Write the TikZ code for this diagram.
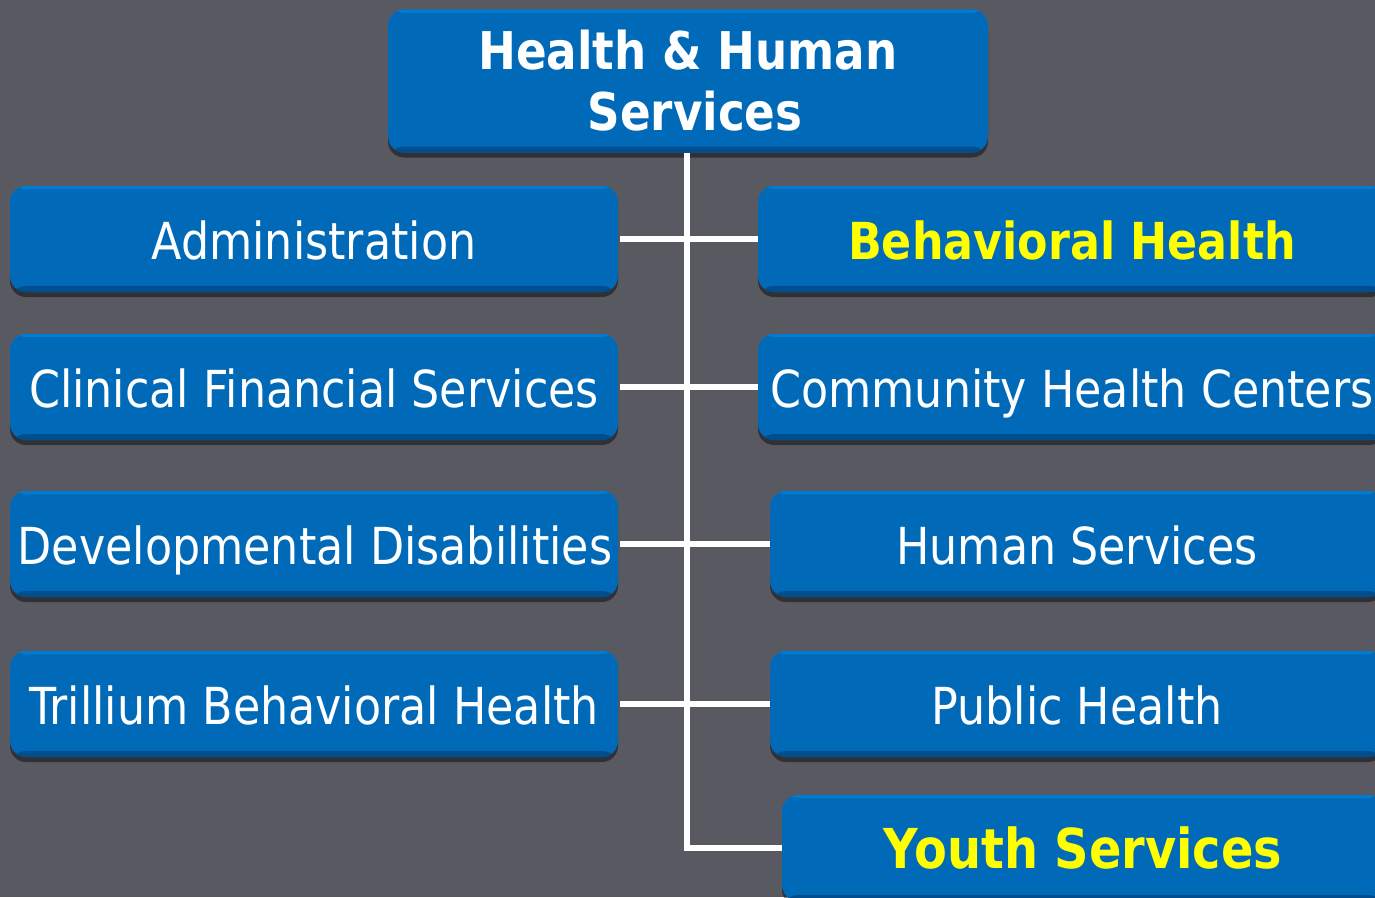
\documentclass[tikz,border=0pt]{standalone}
\usepackage{fontspec}
\setmainfont{DejaVu Sans}[FakeStretch=0.87]
\usetikzlibrary{shadows}
\definecolor{bg}{RGB}{89,89,97}
\definecolor{boxmain}{RGB}{0,106,184}
\definecolor{boxdark}{RGB}{0,78,142}
\definecolor{boxlight}{RGB}{0,124,212}
\definecolor{hlyellow}{RGB}{255,255,0}
\tikzset{
  orgbox/.style={fill=boxmain, rounded corners=16pt, inner sep=0pt,
    text=white, font=\fontsize{51}{61}\selectfont,
    text height=40pt, text depth=0pt,
    drop shadow={shadow xshift=0pt, shadow yshift=-5pt, opacity=0.45, fill=black},
    path picture={
      \fill[boxdark] (path picture bounding box.south west) rectangle ([yshift=6pt]path picture bounding box.south east);
      \fill[boxlight] (path picture bounding box.north west) rectangle ([yshift=-3pt]path picture bounding box.north east);
    }},
  leftbox/.style={orgbox, minimum width=608pt, minimum height=106pt},
  hl/.style={text=hlyellow, font=\fontsize{51}{61}\selectfont\bfseries},
  link/.style={draw=white, line width=5.5pt}
}
\begin{document}
\begin{tikzpicture}[x=1pt,y=-1pt]
\useasboundingbox (0,0) rectangle (1375,897);
\fill[bg] (0,0) rectangle (1375,897);
\clip (0,0) rectangle (1375,897);
% top node
\node[orgbox, minimum width=600pt, minimum height=143pt, text height=, text depth=,
  align=center, font=\fontsize{52}{61}\selectfont\bfseries] (top) at (688,81)
  {Health \& Human\\\hspace*{14pt}Services};
% left column
\node[leftbox] (adm) at (314,239) {Administration};
\node[leftbox] (cfs) at (314,387) {Clinical Financial Services};
\node[leftbox] (dd) at (314,544) {\hspace*{2pt}Developmental Disabilities};
\node[leftbox] (tbh) at (314,704) {Trillium Behavioral Health};
% right column
\node[orgbox, hl, minimum width=628pt, minimum height=106pt] (bh) at (1072,239) {Behavioral Health};
\node[orgbox, minimum width=628pt, minimum height=106pt] (chc) at (1072,387) {Community Health Centers};
\node[orgbox, minimum width=614pt, minimum height=106pt] (hs) at (1077,544) {Human Services};
\node[orgbox, minimum width=614pt, minimum height=106pt] (ph) at (1077,704) {Public Health};
\node[orgbox, hl, font=\fontsize{55}{61}\selectfont\bfseries, minimum width=602pt, minimum height=106pt] (ys) at (1083,848) {Youth Services};
% connectors
\draw[link] (top.south) ++(-1pt,0) coordinate (trunk) -- (trunk |- ys.west) -- (ys.west);
\draw[link] ([xshift=2pt]adm.east) -- (bh.west);
\draw[link] ([xshift=2pt]cfs.east) -- (chc.west);
\draw[link] ([xshift=2pt]dd.east) -- (hs.west);
\draw[link] ([xshift=2pt]tbh.east) -- (ph.west);
\end{tikzpicture}
\end{document}
